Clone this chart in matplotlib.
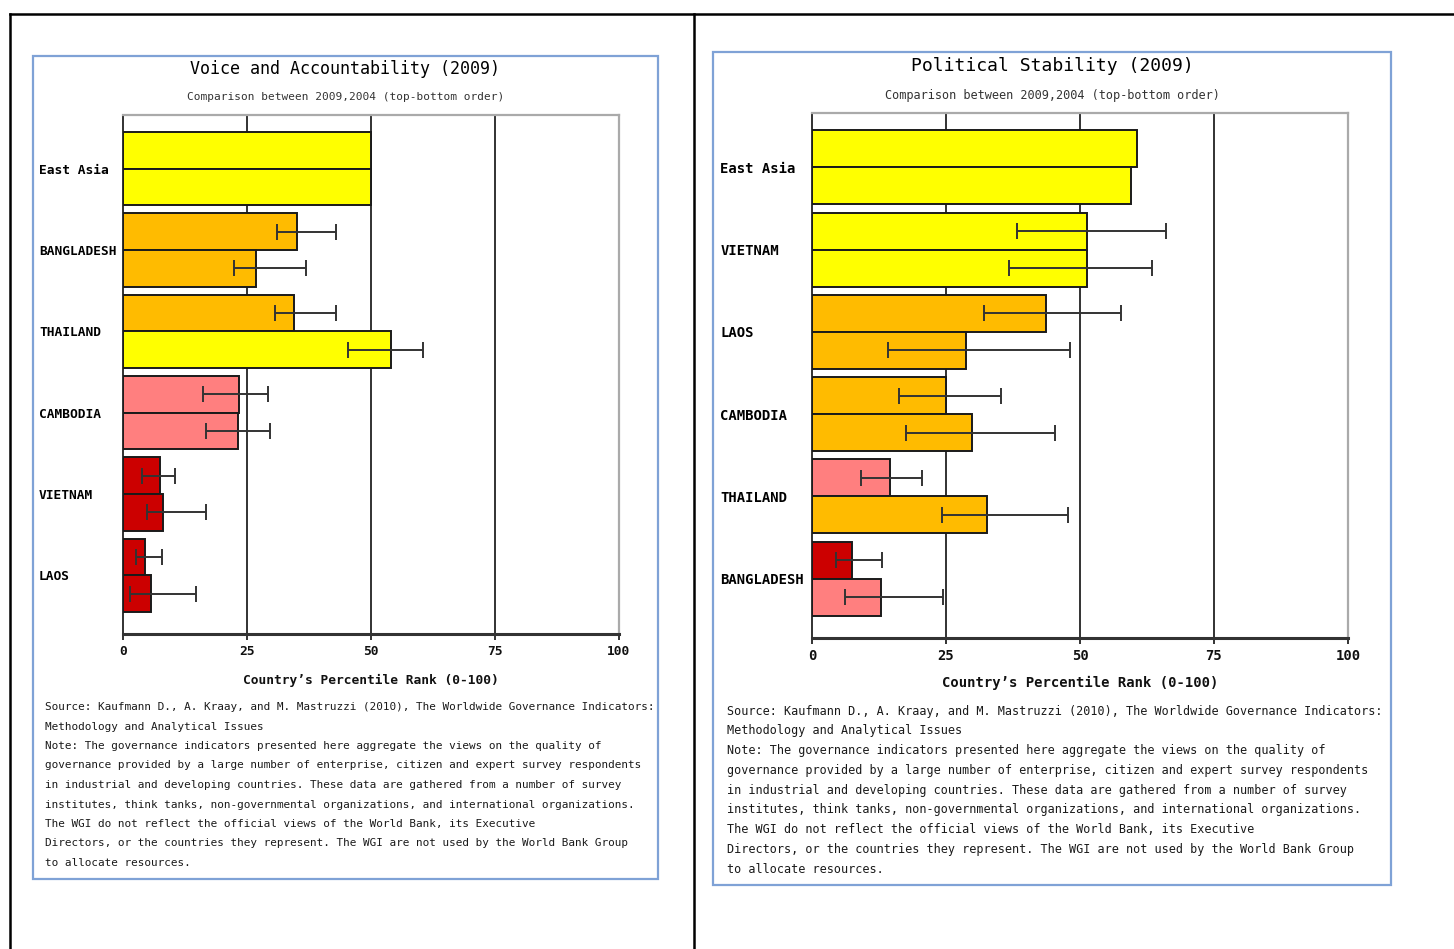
import numpy as np
import matplotlib
matplotlib.use("Agg")
import matplotlib.pyplot as plt
from matplotlib.patches import Rectangle
from matplotlib.lines import Line2D

W, H = 1454, 949
MONO = "DejaVu Sans Mono"

# ---------------- data ----------------
va_title = "Voice and Accountability (2009)"
va_countries = ["East Asia", "BANGLADESH", "THAILAND", "CAMBODIA", "VIETNAM", "LAOS"]
va_2009 = [50.0, 35.0, 34.5, 23.3, 7.4, 4.5]
va_2009_lo = [np.nan, 31.1, 30.7, 16.1, 3.9, 2.7]
va_2009_hi = [np.nan, 43.0, 43.0, 29.2, 10.5, 7.9]
va_2004 = [50.0, 26.8, 54.0, 23.1, 8.1, 5.6]
va_2004_lo = [np.nan, 22.3, 45.4, 16.7, 4.9, 1.4]
va_2004_hi = [np.nan, 36.9, 60.4, 29.7, 16.8, 14.7]

ps_title = "Political Stability (2009)"
ps_countries = ["East Asia", "VIETNAM", "LAOS", "CAMBODIA", "THAILAND", "BANGLADESH"]
ps_2009 = [60.6, 51.3, 43.7, 25.0, 14.5, 7.5]
ps_2009_lo = [np.nan, 38.3, 32.1, 16.2, 9.1, 4.5]
ps_2009_hi = [np.nan, 66.0, 57.6, 35.2, 20.5, 13.1]
ps_2004 = [59.6, 51.3, 28.7, 29.8, 32.7, 12.9]
ps_2004_lo = [np.nan, 36.7, 14.2, 17.5, 24.3, 6.1]
ps_2004_hi = [np.nan, 63.5, 48.2, 45.3, 47.8, 24.4]

subtitle = "Comparison between 2009,2004 (top-bottom order)"
xlabel = "Country\u2019s Percentile Rank (0-100)"
xticks = [0, 25, 50, 75, 100]
source_lines = [
    "Source: Kaufmann D., A. Kraay, and M. Mastruzzi (2010), The Worldwide Governance Indicators:",
    "Methodology and Analytical Issues",
    "Note: The governance indicators presented here aggregate the views on the quality of",
    "governance provided by a large number of enterprise, citizen and expert survey respondents",
    "in industrial and developing countries. These data are gathered from a number of survey",
    "institutes, think tanks, non-governmental organizations, and international organizations.",
    "The WGI do not reflect the official views of the World Bank, its Executive",
    "Directors, or the countries they represent. The WGI are not used by the World Bank Group",
    "to allocate resources.",
]

# color bands by percentile
band_edges = [10, 25, 50]
band_colors = ["#CC0000", "#FF7F7F", "#FFBB00", "#FFFF00"]


def band_color(v):
    return band_colors[int(np.searchsorted(band_edges, v, side="right"))]


fig = plt.figure(figsize=(W / 100, H / 100), dpi=100)
fig.patch.set_facecolor("white")


def fx(px):
    return px / W


def fy(py):
    return 1 - py / H


# outer frame lines
for (x0, y0, x1, y1) in [(10, 14, 1454, 14), (10, 14, 10, 949), (694, 14, 694, 949)]:
    fig.add_artist(Line2D([fx(x0), fx(x1)], [fy(y0), fy(y1)], color="black", lw=1.8,
                          transform=fig.transFigure))


def panel(box, axbox, title, title_y, title_fs, sub_y, sub_fs, countries, v09, lo09, hi09,
          v04, lo04, hi04, lab_fs, lab_pad, xlab_y, src_x, src_y0, src_dy, src_fs):
    bx0, by0, bx1, by1 = box
    fig.add_artist(Rectangle((fx(bx0), fy(by1)), fx(bx1) - fx(bx0), fy(by0) - fy(by1),
                             transform=fig.transFigure, fill=False, edgecolor="#7FA2D6", lw=1.6))
    cx = fx((bx0 + bx1) / 2)
    fig.text(cx, fy(title_y), title, ha="center", va="center", fontsize=title_fs,
             family=MONO, color="#000000", fontweight="medium")
    fig.text(cx, fy(sub_y), subtitle, ha="center", va="center", fontsize=sub_fs,
             family=MONO, color="#333333")

    ax0, ay0, ax1, ay1 = axbox
    ax = fig.add_axes([fx(ax0), fy(ay1), fx(ax1) - fx(ax0), fy(ay0) - fy(ay1)])
    n = len(countries)
    y = np.arange(n)
    h = 0.45
    for vals, lo, hi, off in [(v09, lo09, hi09, -h / 2), (v04, lo04, hi04, h / 2)]:
        vals = np.array(vals)
        ax.barh(y + off, vals, height=h, color=[band_color(v) for v in vals],
                edgecolor="#1a1a1a", linewidth=1.4, zorder=3)
        lo = np.array(lo)
        hi = np.array(hi)
        m = ~np.isnan(lo)
        ax.errorbar(vals[m], (y + off)[m], xerr=[vals[m] - lo[m], hi[m] - vals[m]],
                    fmt="none", ecolor="#333333", elinewidth=1.4, capsize=6, capthick=1.4,
                    zorder=4)
    ax.set_xlim(0, 100)
    ax.set_ylim(5.72, -0.66)
    ax.set_xticks(xticks)
    ax.set_xticklabels([str(t) for t in xticks], fontsize=lab_fs, family=MONO,
                       fontweight="bold")
    ax.set_yticks(y)
    ax.set_yticklabels(countries, fontsize=lab_fs, family=MONO, fontweight="bold", ha="left")
    ax.tick_params(axis="y", length=0, pad=lab_pad)
    ax.tick_params(axis="x", length=4, width=1.2, pad=4, colors="#111111")
    for t in (25, 50, 75):
        ax.axvline(t, color="#222222", lw=1.3, zorder=1)
    ax.spines["left"].set_color("#222222")
    ax.spines["left"].set_linewidth(1.3)
    ax.spines["bottom"].set_color("#333333")
    ax.spines["bottom"].set_linewidth(2.2)
    ax.spines["top"].set_color("#AAAAAA")
    ax.spines["top"].set_linewidth(1.6)
    ax.spines["right"].set_color("#AAAAAA")
    ax.spines["right"].set_linewidth(1.6)
    fig.text(fx((ax0 + ax1) / 2), fy(xlab_y), xlabel, ha="center", va="center",
             fontsize=lab_fs, family=MONO, fontweight="bold", color="#111111")
    for i, line in enumerate(source_lines):
        fig.text(fx(src_x), fy(src_y0 + i * src_dy), line, ha="left", va="center",
                 fontsize=src_fs, family=MONO, color="#1a1a1a")


panel((33, 56, 658, 879), (123, 115, 619, 634), va_title, 69, 12, 97, 8,
      va_countries, va_2009, va_2009_lo, va_2009_hi, va_2004, va_2004_lo, va_2004_hi,
      9.3, 60.5, 680, 45, 707, 19.5, 7.9)
panel((713, 52, 1391, 885), (812, 113, 1348, 638), ps_title, 66, 13, 95, 8.6,
      ps_countries, ps_2009, ps_2009_lo, ps_2009_hi, ps_2004, ps_2004_lo, ps_2004_hi,
      10.0, 66, 683, 727, 711, 19.8, 8.5)

fig.savefig("out.png", dpi=100, facecolor="white")
